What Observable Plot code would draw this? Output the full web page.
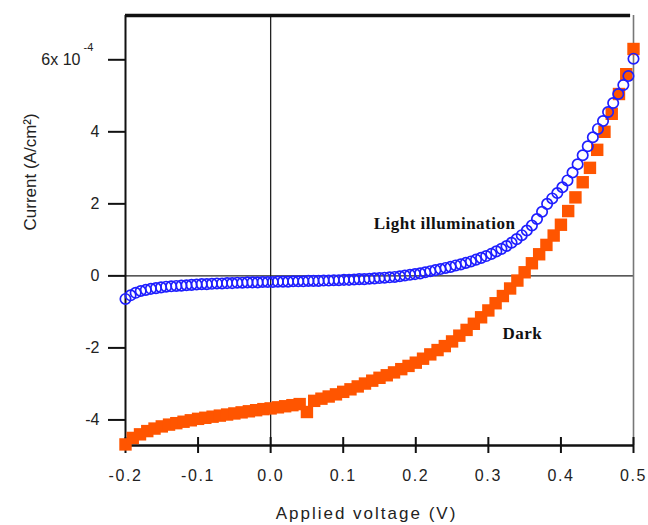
<!DOCTYPE html>
<html><head><meta charset="utf-8">
<script src="https://cdn.jsdelivr.net/npm/d3@7"></script>
<script src="https://cdn.jsdelivr.net/npm/@observablehq/plot@0.6"></script>
<style>
html,body{margin:0;padding:0;background:#fff;}
#chart svg g[aria-label="x-axis tick label"] text { letter-spacing: 1.6px; }
#chart svg g.xlabel text { letter-spacing: 2px; }
#chart svg g.annot text { letter-spacing: 0.5px; }
</style></head><body><div id="chart"></div>
<script>
// ---- data (current in units of 1e-4 A/cm^2) ----
const voltageStart = -0.2;
const darkStep = 0.01;
const darkCurrent = [
  -4.68,-4.50,-4.40,-4.31,-4.24,-4.18,-4.13,-4.09,-4.05,-4.01,
  -3.97,-3.94,-3.91,-3.88,-3.85,-3.82,-3.79,-3.76,-3.73,-3.70,
  -3.68,-3.65,-3.62,-3.59,-3.56,-3.78,-3.47,-3.41,-3.35,-3.29,
  -3.22,-3.15,-3.07,-2.99,-2.91,-2.83,-2.76,-2.68,-2.59,-2.50,
  -2.41,-2.30,-2.18,-2.06,-1.95,-1.82,-1.66,-1.50,-1.33,-1.15,
  -0.96,-0.76,-0.56,-0.35,-0.13, 0.10, 0.35, 0.60, 0.86, 1.12,
   1.42, 1.80, 2.18, 2.60, 3.00, 3.50, 4.00, 4.50, 5.05, 5.60,
   6.30
];
const lightStep = 0.007;
const lightCurrent = [
  -0.64,-0.54,-0.47,-0.42,-0.39,-0.36,-0.34,-0.32,-0.30,-0.29,
  -0.28,-0.27,-0.26,-0.25,-0.24,-0.23,-0.23,-0.22,-0.21,-0.21,
  -0.20,-0.20,-0.19,-0.19,-0.18,-0.18,-0.18,-0.17,-0.17,-0.17,
  -0.16,-0.16,-0.16,-0.15,-0.15,-0.15,-0.14,-0.14,-0.14,-0.13,
  -0.13,-0.12,-0.12,-0.11,-0.11,-0.10,-0.09,-0.09,-0.08,-0.07,
  -0.06,-0.05,-0.04,-0.03,-0.01, 0.01, 0.03, 0.05, 0.07, 0.10,
   0.13, 0.16, 0.19, 0.22, 0.25, 0.29, 0.32, 0.36, 0.40, 0.45,
   0.50, 0.55, 0.61, 0.68, 0.75, 0.83, 0.92, 1.02, 1.13, 1.26,
   1.40, 1.58, 1.78, 2.00, 2.15, 2.30, 2.46, 2.65, 2.87, 3.10,
   3.35, 3.60, 3.85, 4.08, 4.30, 4.55, 4.80, 5.05, 5.30, 5.55,
   6.03
];
const xTicks = [-0.2,-0.1,0,0.1,0.2,0.3,0.4,0.5];
const xTickLabels = ["-0.2","-0.1","0.0","0.1","0.2","0.3","0.4","0.5"];
const yTicks = [-4,-2,0,2,4,6];
const yTickLabels = ["-4","-2","0","2","4",""];
const yTopLabel = "6x 10";
const yExponent = "-4";
const annotationText = ["Light illumination","Dark"];
const annotationV = [0.142, 0.3195];
const annotationI = [1.46, -1.6];
const xLabel = "Applied voltage (V)";
const yLabel = "Current (A/cm²)";
const xDomain = [-0.2, 0.5];
const yDomain = [-4.71, 7.23];

const darkData = darkCurrent.map((c, i) => ({v: voltageStart + i * darkStep, c}));
const lightData = lightCurrent.map((c, i) => ({v: voltageStart + i * lightStep, c}));
const annotations = annotationText.map((t, i) => ({t, v: annotationV[i], c: annotationI[i]}));

const chart = Plot.plot({
  width: 648, height: 525,
  marginLeft: 125, marginRight: 15, marginTop: 15, marginBottom: 80,
  x: {domain: xDomain},
  y: {domain: yDomain},
  style: {fontFamily: "'Liberation Sans', Arial, sans-serif", fontSize: "16px", color: "#222", background: "#fff"},
  marks: [
    Plot.ruleY([0], {stroke: "#222", strokeWidth: 1.2}),
    Plot.ruleX([0], {stroke: "#222", strokeWidth: 1.3}),
    Plot.ruleX([xDomain[1]], {stroke: "#777", strokeWidth: 1.6}),
    Plot.ruleY([yDomain[1]], {stroke: "#111", strokeWidth: 3.5, x1: xDomain[0], x2: 0.496}),
    Plot.ruleX([xDomain[0]], {stroke: "#111", strokeWidth: 2}),
    Plot.ruleY([yDomain[0]], {stroke: "#111", strokeWidth: 2.5}),
    Plot.axisY({ticks: yTicks, tickSize: 17, tickPadding: 9, strokeWidth: 2, stroke: "#111",
      tickFormat: d => yTickLabels[yTicks.indexOf(d)], label: null, fontSize: 16}),
    Plot.text([yTicks[yTicks.length - 1]], {x: xDomain[0], y: d => d, text: () => yTopLabel,
      textAnchor: "end", dx: -45, fontSize: 16, fill: "#222"}),
    Plot.text([yTicks[yTicks.length - 1]], {x: xDomain[0], y: d => d, text: () => yExponent,
      textAnchor: "start", dx: -42, dy: -12, fontSize: 11, fill: "#222"}),
    Plot.axisX({ticks: xTicks, tickSize: 8, tickPadding: 16, strokeWidth: 2, stroke: "#111",
      tickFormat: d => xTickLabels[xTicks.indexOf(d)], label: null, fontSize: 16}),
    Plot.tickX(xTicks, {x: d => d, insetTop: 422, strokeWidth: 2, stroke: "#111"}),
    Plot.dot(darkData, {x: "v", y: "c", symbol: "square", r: 7, fill: "#ff5500", stroke: "none"}),
    Plot.dot(lightData, {x: "v", y: "c", r: 5.2, fill: "none", stroke: "#1f1fff", strokeWidth: 1.7}),
    Plot.text(annotations, {x: "v", y: "c", text: "t", textAnchor: "start", className: "annot",
      fontFamily: "'Liberation Serif', 'Times New Roman', serif", fontWeight: "bold", fontSize: 17, fill: "#111"}),
    Plot.text([xLabel], {text: d => d, frameAnchor: "bottom", dy: 73, dx: -13, lineAnchor: "bottom",
      fontSize: 17, fill: "#222", className: "xlabel"}),
    Plot.text([yLabel], {text: d => d, frameAnchor: "left", rotate: -90, dx: -95,
      fontSize: 17, fill: "#222"})
  ]
});
document.getElementById("chart").appendChild(chart);
</script></body></html>
